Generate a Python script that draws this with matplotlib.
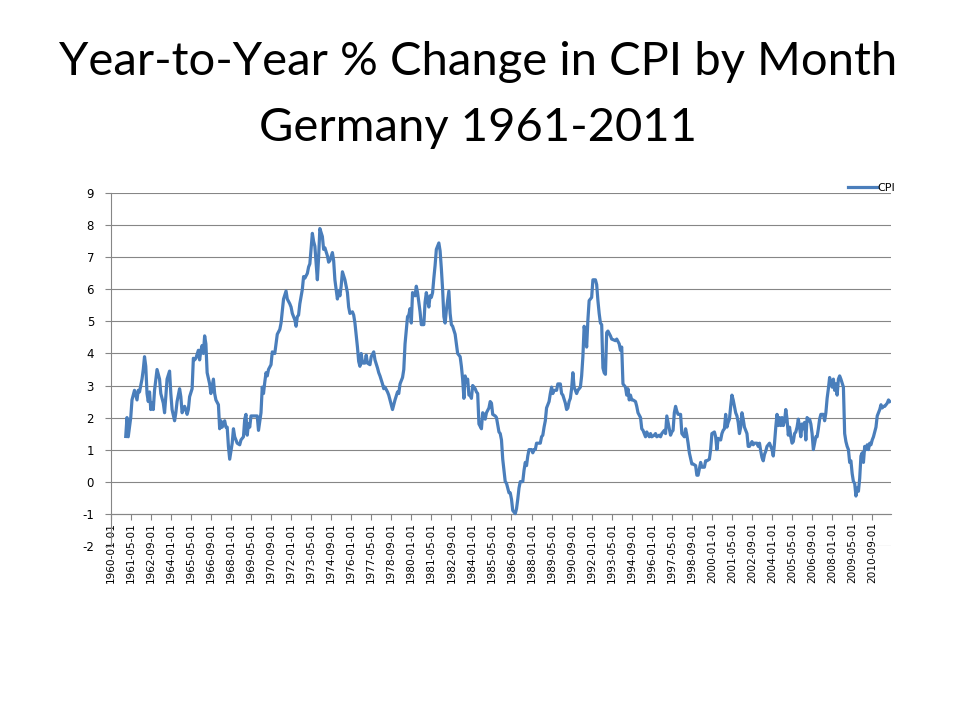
import matplotlib
matplotlib.use("Agg")
import matplotlib.pyplot as plt
import numpy as np

# ---------------- data ----------------
# month offsets counted from January 1960 (0 = 1960-01), yoy % change in CPI
month_offset = [
    12, 13, 14, 16, 17, 19, 21, 22, 23, 25, 26, 27, 28, 29, 30, 31, 32, 33, 34, 35,
    37, 39, 40, 42, 43, 44, 45, 47, 48, 49, 51, 52, 53, 55, 56, 57, 59, 60, 61, 62,
    63, 65, 66, 67, 68, 70, 71, 72, 73, 74, 75, 76, 77, 79, 80, 82, 83, 84, 86, 87,
    88, 89, 91, 92, 93, 94, 95, 97, 98, 99, 101, 103, 104, 106, 107, 108, 109, 110, 111, 112,
    115, 117, 118, 120, 121, 122, 123, 124, 125, 126, 128, 129, 131, 133, 135, 136, 138, 140, 141, 143,
    144, 145, 147, 148, 149, 150, 151, 153, 154, 155, 157, 158, 159, 161, 162, 163, 165, 166, 167, 169,
    170, 171, 173, 174, 175, 177, 178, 179, 181, 182, 183, 184, 185, 187, 188, 189, 190, 191, 193, 194,
    195, 197, 198, 199, 200, 201, 203, 204, 205, 207, 208, 210, 211, 213, 214, 215, 217, 218, 219, 221,
    222, 223, 225, 226, 227, 229, 230, 231, 233, 234, 235, 237, 238, 239, 240, 241, 243, 244, 245, 247,
    248, 250, 251, 252, 254, 255, 256, 257, 258, 259, 260, 262, 263, 264, 265, 266, 267, 268, 270, 271,
    272, 273, 275, 276, 277, 279, 280, 281, 282, 283, 284, 285, 286, 287, 288, 289, 291, 292, 293, 294,
    296, 297, 298, 299, 300, 302, 303, 304, 305, 307, 308, 310, 311, 312, 313, 315, 316, 318, 319, 320,
    321, 323, 324, 325, 326, 327, 329, 330, 331, 332, 333, 334, 336, 337, 338, 339, 340, 342, 343, 344,
    345, 346, 347, 348, 350, 351, 352, 353, 354, 356, 357, 359, 360, 361, 363, 364, 365, 366, 367, 368,
    369, 370, 372, 373, 375, 376, 377, 378, 379, 380, 381, 382, 383, 384, 385, 387, 388, 389, 390, 391,
    392, 393, 394, 395, 396, 397, 399, 400, 403, 404, 406, 407, 408, 409, 411, 412, 413, 414, 415, 416,
    417, 419, 420, 421, 423, 424, 425, 427, 428, 430, 431, 432, 434, 435, 436, 438, 439, 440, 442, 443,
    444, 445, 447, 448, 449, 450, 451, 452, 453, 455, 456, 457, 458, 459, 460, 461, 462, 464, 465, 467,
    468, 469, 470, 471, 472, 474, 475, 476, 478, 479, 480, 482, 483, 484, 485, 487, 488, 489, 490, 491,
    492, 493, 494, 495, 496, 497, 499, 500, 501, 502, 503, 504, 505, 506, 508, 509, 510, 512, 513, 514,
    516, 517, 518, 519, 520, 521, 522, 523, 524, 525, 526, 527, 528, 529, 530, 531, 532, 533, 534, 535,
    536, 537, 538, 539, 540, 541, 542, 543, 544, 545, 546, 547, 548, 549, 550, 551, 552, 553, 554, 555,
    556, 557, 558, 559, 560, 561, 562, 563, 564, 565, 566, 567, 569, 570, 571, 572, 573, 574, 575, 576,
    577, 578, 579, 580, 581, 582, 583, 585, 586, 587, 588, 589, 590, 591, 592, 593, 594, 595, 596, 597,
    598, 599, 600, 601, 602, 603, 604, 605, 606, 607, 608, 609, 610, 611, 612, 613, 614, 615, 616, 617,
    618, 619, 620, 621, 622,
]
cpi_change = [
    1.41, 2.0, 1.4, 2.0, 2.55, 2.85, 2.55, 2.85, 2.8, 3.2, 3.5, 3.9, 3.6, 2.75, 2.5, 2.8, 2.25, 2.45, 2.25, 2.85,
    3.5, 3.2, 2.75, 2.45, 2.15, 2.65, 3.2, 3.45, 2.75, 2.25, 1.9, 2.15, 2.5, 2.9, 2.65, 2.15, 2.35, 2.25, 2.1, 2.25,
    2.65, 2.9, 3.85, 3.8, 3.85, 4.1, 3.8, 4.1, 4.25, 4.0, 4.55, 4.3, 3.4, 3.05, 2.75, 3.2, 2.75, 2.55, 2.4, 1.65,
    1.9, 1.7, 1.9, 1.7, 1.7, 1.1, 0.7, 1.2, 1.65, 1.4, 1.2, 1.15, 1.3, 1.4, 1.95, 2.1, 1.45, 1.8, 1.7, 2.05,
    2.05, 2.05, 1.6, 2.15, 2.95, 2.75, 3.1, 3.4, 3.3, 3.5, 3.65, 4.05, 4.0, 4.6, 4.75, 4.95, 5.7, 5.95, 5.7, 5.55,
    5.45, 5.25, 5.05, 4.85, 5.15, 5.2, 5.55, 6.0, 6.4, 6.35, 6.5, 6.7, 6.8, 7.75, 7.5, 7.35, 6.3, 7.0, 7.9, 7.65,
    7.25, 7.3, 7.05, 6.85, 6.9, 7.15, 6.9, 6.3, 5.7, 5.95, 5.8, 6.1, 6.55, 6.3, 6.1, 5.9, 5.45, 5.25, 5.3, 5.2,
    4.95, 4.2, 3.75, 3.6, 4.0, 3.7, 3.7, 3.95, 3.7, 3.65, 3.9, 4.05, 3.8, 3.55, 3.4, 3.3, 3.05, 2.9, 2.95, 2.8,
    2.7, 2.55, 2.25, 2.4, 2.55, 2.8, 2.75, 3.05, 3.25, 3.5, 4.3, 5.15, 5.2, 5.4, 4.95, 5.9, 5.8, 6.1, 5.9, 5.3,
    4.9, 4.9, 5.6, 5.9, 5.45, 5.8, 5.75, 5.9, 6.35, 6.75, 7.25, 7.45, 7.2, 6.65, 6.0, 5.15, 4.95, 5.35, 5.95, 5.25,
    4.9, 4.85, 4.6, 4.3, 4.0, 3.9, 3.6, 3.2, 2.6, 3.3, 3.1, 3.2, 2.7, 2.7, 2.6, 3.0, 2.9, 2.8, 2.75, 1.8,
    1.65, 2.15, 2.1, 1.95, 2.15, 2.3, 2.5, 2.45, 2.1, 2.05, 2.0, 1.55, 1.5, 1.3, 0.7, 0.0, -0.05, -0.35, -0.35, -0.55,
    -0.9, -1.0, -0.85, -0.55, -0.2, 0.0, 0.0, 0.35, 0.6, 0.5, 0.8, 1.0, 1.0, 0.9, 1.0, 1.0, 1.2, 1.2, 1.2, 1.4,
    1.45, 1.7, 1.9, 2.3, 2.5, 2.75, 2.95, 2.75, 2.85, 2.85, 3.05, 3.05, 2.75, 2.7, 2.45, 2.25, 2.3, 2.5, 2.6, 2.9,
    3.4, 2.95, 2.75, 2.85, 2.95, 3.3, 3.9, 4.85, 4.6, 4.2, 5.05, 5.65, 5.7, 5.75, 6.3, 6.3, 6.15, 5.65, 5.25, 4.95,
    4.9, 3.55, 3.4, 3.35, 4.65, 4.7, 4.55, 4.45, 4.4, 4.45, 4.3, 4.1, 4.2, 3.05, 2.95, 2.7, 2.9, 2.55, 2.7, 2.55,
    2.55, 2.5, 2.35, 2.15, 2.0, 1.65, 1.6, 1.4, 1.55, 1.4, 1.5, 1.4, 1.45, 1.5, 1.4, 1.45, 1.4, 1.5, 1.6, 1.5,
    2.05, 1.85, 1.45, 1.55, 1.6, 2.15, 2.35, 2.2, 2.1, 2.1, 1.5, 1.45, 1.4, 1.65, 1.45, 1.2, 0.9, 0.55, 0.55, 0.5,
    0.2, 0.2, 0.4, 0.6, 0.45, 0.45, 0.65, 0.65, 0.7, 1.0, 1.5, 1.55, 1.4, 1.0, 1.35, 1.3, 1.5, 1.6, 1.65, 2.1,
    1.7, 1.85, 1.95, 2.35, 2.7, 2.55, 2.15, 2.05, 1.85, 1.5, 1.7, 2.15, 1.95, 1.7, 1.5, 1.1, 1.1, 1.25, 1.15, 1.2,
    1.2, 1.1, 1.2, 0.95, 0.75, 0.65, 0.85, 0.95, 1.1, 1.15, 1.2, 1.1, 1.0, 0.8, 1.2, 1.7, 2.1, 1.75, 2.0, 1.75,
    2.0, 1.75, 1.9, 2.25, 1.95, 1.45, 1.7, 1.4, 1.2, 1.25, 1.5, 1.55, 1.7, 1.95, 1.7, 1.4, 1.8, 1.65, 1.85, 1.3,
    2.0, 1.9, 1.95, 1.8, 1.5, 1.0, 1.2, 1.4, 1.4, 1.65, 1.95, 2.1, 2.1, 1.9, 2.15, 2.6, 2.9, 3.25, 3.05, 2.95,
    3.2, 2.85, 3.05, 2.7, 3.2, 3.3, 3.2, 2.95, 1.5, 1.25, 1.1, 1.0, 0.6, 0.65, 0.25, 0.0, -0.05, -0.45, -0.2, -0.3,
    0.1, 0.8, 0.9, 0.6, 1.1, 1.0, 1.15, 1.0, 1.2, 1.15, 1.3, 1.4, 1.55, 1.7, 2.05, 2.15, 2.25, 2.4, 2.3, 2.35,
    2.35, 2.4, 2.45, 2.55, 2.5,
]
tick_labels = [
    "1960-01-01", "1961-05-01", "1962-09-01", "1964-01-01", "1965-05-01", "1966-09-01",
    "1968-01-01", "1969-05-01", "1970-09-01", "1972-01-01", "1973-05-01", "1974-09-01",
    "1976-01-01", "1977-05-01", "1978-09-01", "1980-01-01", "1981-05-01", "1982-09-01",
    "1984-01-01", "1985-05-01", "1986-09-01", "1988-01-01", "1989-05-01", "1990-09-01",
    "1992-01-01", "1993-05-01", "1994-09-01", "1996-01-01", "1997-05-01", "1998-09-01",
    "2000-01-01", "2001-05-01", "2002-09-01", "2004-01-01", "2005-05-01", "2006-09-01",
    "2008-01-01", "2009-05-01", "2010-09-01",
]
y_ticks = [-2, -1, 0, 1, 2, 3, 4, 5, 6, 7, 8, 9]
series_name = "CPI"
title_lines = ["Year-to-Year % Change in CPI by Month", "Germany 1961-2011"]

# ---------------- figure ----------------
W, H = 960, 720
fig = plt.figure(figsize=(W / 100, H / 100), dpi=100)
fig.patch.set_facecolor("white")

left_px, right_px, top_px, bottom_px = 110.7, 891.0, 193.3, 545.7
ax = fig.add_axes([left_px / W, 1 - bottom_px / H,
                   (right_px - left_px) / W, (bottom_px - top_px) / H])

grid_col = "#868686"
for s in ["top", "right"]:
    ax.spines[s].set_visible(False)
ax.spines["bottom"].set_position(("data", -1))
ax.spines["bottom"].set_color(grid_col)
ax.spines["left"].set_color(grid_col)
ax.spines["bottom"].set_linewidth(0.8)
ax.spines["left"].set_linewidth(0.8)

x_pos = np.array(month_offset, dtype=float)
ax.plot(x_pos, cpi_change, color="#4a7ebb", lw=2.3, solid_joinstyle="round",
        label=series_name, zorder=3)

tick_pos = [(int(s[:4]) - 1960) * 12 + int(s[5:7]) - 1 for s in tick_labels]

ax.set_xlim(0, 623)
ax.set_ylim(-2, 9)
ax.set_yticks(y_ticks)
ax.set_yticklabels([str(v) for v in y_ticks])
ax.set_xticks(tick_pos)
ax.set_xticklabels(tick_labels, rotation=90, fontsize=7.6, family="DejaVu Sans",
                   color="#000000")

for v in y_ticks:
    ax.axhline(v, color=grid_col, lw=0.8, zorder=1)

ax.tick_params(axis="x", direction="out", length=4, width=0.8, color=grid_col, pad=2)
ax.tick_params(axis="y", direction="out", length=4, width=0.8, color=grid_col,
               labelsize=8.5, pad=8)

# legend
fig.legend(loc="center left", bbox_to_anchor=(848 / W, 1 - 188 / H), frameon=False,
           fontsize=8, handlelength=2.6, handletextpad=0.05, borderpad=0,
           borderaxespad=0)

# title, width fitted to the reference
fam = ["Lato", "DejaVu Sans"]
t1 = fig.text(478 / W, 1 - 75 / H, title_lines[0], ha="center", va="baseline",
              fontsize=40, family=fam, color="black")
t2 = fig.text(478 / W, 1 - 140.7 / H, title_lines[1], ha="center", va="baseline",
              fontsize=40, family=fam, color="black")
fig.canvas.draw()
r = fig.canvas.get_renderer()
w1 = t1.get_window_extent(r).width
fs = 40 * 837.0 / w1
t1.set_fontsize(fs)
t2.set_fontsize(fs)

fig.savefig("out.png", dpi=100, facecolor="white")
